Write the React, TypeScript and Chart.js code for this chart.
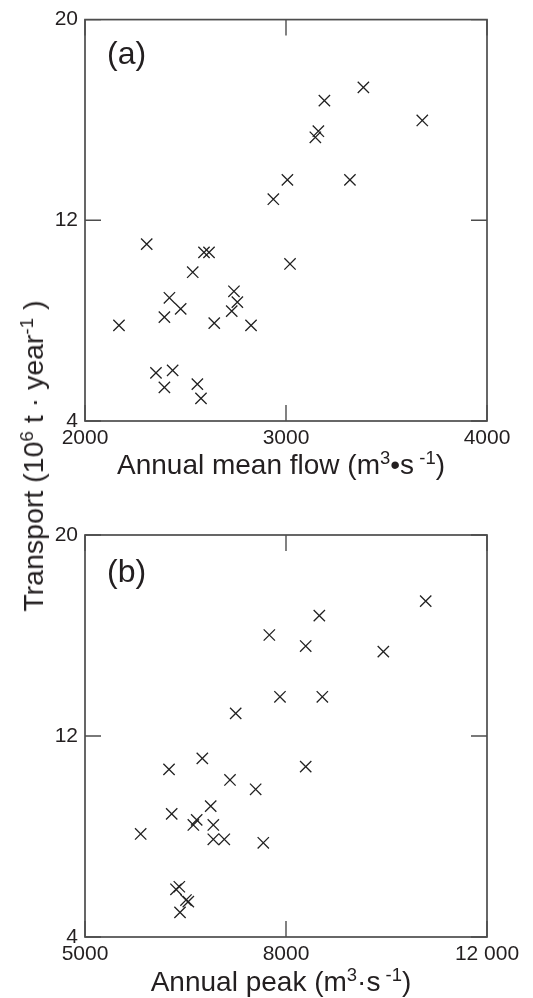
import React, { useEffect, useRef } from 'react';
import { Chart, registerables, LinearScale } from 'chart.js';

// ---------- data ----------
const meanFlow = [3385, 3191, 3678, 3161, 3146, 3007, 3318, 2937, 2307, 2592, 2617, 2536, 3020, 2741, 2758, 2730, 2420, 2476, 2395, 2169, 2643, 2826, 2353, 2436, 2395, 2559, 2577];
const meanTransport = [17.3, 16.77, 15.98, 15.55, 15.31, 13.61, 13.61, 12.84, 11.05, 10.72, 10.72, 9.93, 10.26, 9.17, 8.74, 8.38, 8.91, 8.47, 8.14, 7.81, 7.9, 7.81, 5.92, 6.02, 5.34, 5.47, 4.9];

const peakFlow = [10780, 8663, 7751, 8392, 9937, 7910, 8723, 7249, 6751, 6254, 8392, 7164, 7547, 6876, 6294, 6667, 6617, 6915, 5831, 6915, 7079, 7661, 6408, 6358, 6507, 6542, 6418];
const peakTransport = [17.37, 16.79, 16.02, 15.58, 15.36, 13.56, 13.56, 12.9, 11.11, 10.67, 10.78, 10.25, 9.88, 9.21, 8.9, 8.66, 8.46, 8.46, 8.1, 7.89, 7.89, 7.75, 6.0, 5.9, 5.47, 5.41, 4.98];

const meanFlowTicks = [2000, 3000, 4000];
const peakFlowTicks = [5000, 8000, 12000];
const transportTicks = [4, 12, 20];

// ---------- styles ----------
const FONT = "'Liberation Sans', Arial, Helvetica, sans-serif";
const TEXT = '#231f20';
const FRAME = '#4d4d4d';
const MARK = '#222222';

// Piecewise-linear axis: equal spacing between successive tick breaks
class PiecewiseScale extends LinearScale {
  static id = 'piecewise';
  static defaults = LinearScale.defaults;
  breakDecimal(value: number) {
    const b: number[] = (this as any).options.breaks;
    const n = b.length - 1;
    for (let i = 0; i < n; i++) {
      if (value <= b[i + 1] || i === n - 1) {
        return (i + (value - b[i]) / (b[i + 1] - b[i])) / n;
      }
    }
    return 0;
  }
  getPixelForValue(value: number) {
    return (this as any).getPixelForDecimal(this.breakDecimal(value));
  }
  getValueForPixel(pixel: number) {
    const b: number[] = (this as any).options.breaks;
    const n = b.length - 1;
    const d = (this as any).getDecimalForPixel(pixel) * n;
    const i = Math.min(Math.max(Math.floor(d), 0), n - 1);
    return b[i] + (d - i) * (b[i + 1] - b[i]);
  }
}

Chart.register(...registerables, PiecewiseScale);

const frameTicks = {
  id: 'frameTicks',
  afterDraw(chart: any) {
    const { ctx, chartArea } = chart;
    const { left, right, top, bottom } = chartArea;
    const xs = chart.scales.x;
    const ys = chart.scales.y;
    const L = 16;
    ctx.save();
    ctx.strokeStyle = FRAME;
    ctx.lineWidth = 1.4;
    ctx.beginPath();
    xs.ticks.forEach((t: any) => {
      const px = xs.getPixelForValue(t.value);
      ctx.moveTo(px, bottom);
      ctx.lineTo(px, bottom - L);
      ctx.moveTo(px, top);
      ctx.lineTo(px, top + L);
    });
    ys.ticks.forEach((t: any) => {
      const py = ys.getPixelForValue(t.value);
      ctx.moveTo(left, py);
      ctx.lineTo(left + L, py);
      ctx.moveTo(right, py);
      ctx.lineTo(right - L, py);
    });
    ctx.stroke();
    ctx.lineWidth = 1.7;
    ctx.strokeRect(left, top, right - left, bottom - top);
    const pl = chart.options.plugins.panelLabel;
    if (pl && pl.text) {
      ctx.fillStyle = TEXT;
      ctx.font = `32px ${FONT}`;
      ctx.textAlign = 'left';
      ctx.textBaseline = 'alphabetic';
      ctx.fillText(pl.text, left + 22, top + pl.dy);
    }
    ctx.restore();
  },
};

const fmt = (v: number) => {
  const s = String(Math.round(v));
  return v >= 10000 ? s.slice(0, s.length - 3) + ' ' + s.slice(-3) : s;
};

function makeConfig(xs: number[], ys: number[], xType: string, xTicks: number[], padTop: number, xHeight: number, label: string, labelDy: number): any {
  const tickFont = { family: FONT, size: 21 };
  return {
    type: 'scatter',
    data: {
      datasets: [
        {
          data: xs.map((x, i) => ({ x, y: ys[i] })),
          pointStyle: 'crossRot',
          pointRadius: 8,
          pointHoverRadius: 8,
          borderColor: MARK,
          backgroundColor: MARK,
          borderWidth: 1.3,
        },
      ],
    },
    options: {
      animation: false,
      responsive: false,
      devicePixelRatio: 1,
      events: [],
      layout: { padding: { top: padTop, right: 46, left: 0, bottom: 0 } },
      plugins: {
        legend: { display: false },
        tooltip: { enabled: false },
        panelLabel: { text: label, dy: labelDy },
      },
      scales: {
        x: {
          type: xType,
          breaks: xTicks,
          min: xTicks[0],
          max: xTicks[xTicks.length - 1],
          afterBuildTicks: (s: any) => {
            s.ticks = xTicks.map((v) => ({ value: v }));
          },
          afterFit: (s: any) => {
            s.height = xHeight;
          },
          grid: { display: false, drawTicks: false },
          border: { display: false },
          ticks: {
            font: tickFont,
            color: TEXT,
            padding: 5,
            maxRotation: 0,
            autoSkip: false,
            callback: (v: number) => fmt(v),
          },
        },
        y: {
          type: 'linear',
          min: transportTicks[0],
          max: transportTicks[transportTicks.length - 1],
          afterBuildTicks: (s: any) => {
            s.ticks = transportTicks.map((v) => ({ value: v }));
          },
          afterFit: (s: any) => {
            s.width = 85;
          },
          grid: { display: false, drawTicks: false },
          border: { display: false },
          ticks: {
            font: tickFont,
            color: TEXT,
            padding: 7,
            autoSkip: false,
            callback: (v: number) => String(v),
          },
        },
      },
    },
    plugins: [frameTicks],
  };
}

function Panel(props: { top: number; height: number; cfg: any }) {
  const ref = useRef<HTMLCanvasElement | null>(null);
  useEffect(() => {
    if (!ref.current) return;
    const chart = new Chart(ref.current, props.cfg);
    return () => chart.destroy();
  }, []);
  return (
    <canvas
      ref={ref}
      width={533}
      height={props.height}
      style={{ position: 'absolute', left: 0, top: props.top, width: 533, height: props.height }}
    />
  );
}

const supStyle: React.CSSProperties = { fontSize: '0.66em', verticalAlign: '0.55em', lineHeight: 0 };

export default function App() {
  const cfgA = makeConfig(meanFlow, meanTransport, 'linear', meanFlowTicks, 18, 29, '(a)', 44);
  const cfgB = makeConfig(peakFlow, peakTransport, 'piecewise', peakFlowTicks, 35, 33, '(b)', 47);
  const titleBase: React.CSSProperties = {
    position: 'absolute',
    fontFamily: FONT,
    fontSize: 28,
    lineHeight: '28px',
    color: TEXT,
    whiteSpace: 'nowrap',
  };
  return (
    <div style={{ position: 'absolute', left: 0, top: 0, width: 533, height: 998, background: '#fff', overflow: 'hidden' }}>
      <Panel top={0} height={450} cfg={cfgA} />
      <Panel top={500} height={470} cfg={cfgB} />
      <div style={{ ...titleBase, left: 281, top: 451, transform: 'translateX(-50%)' }}>
        Annual mean flow (m<span style={supStyle}>3</span>•s<span style={supStyle}> -1</span>)
      </div>
      <div style={{ ...titleBase, left: 281, top: 968, transform: 'translateX(-50%)' }}>
        Annual peak (m<span style={supStyle}>3</span>·s<span style={supStyle}> -1</span>)
      </div>
      <div
        style={{
          ...titleBase,
          fontSize: 28.5,
          left: 33,
          top: 456,
          transform: 'translate(-50%, -50%) rotate(-90deg)',
        }}
      >
        Transport (10<span style={supStyle}>6</span> t · year<span style={supStyle}>-1</span> )
      </div>
    </div>
  );
}
